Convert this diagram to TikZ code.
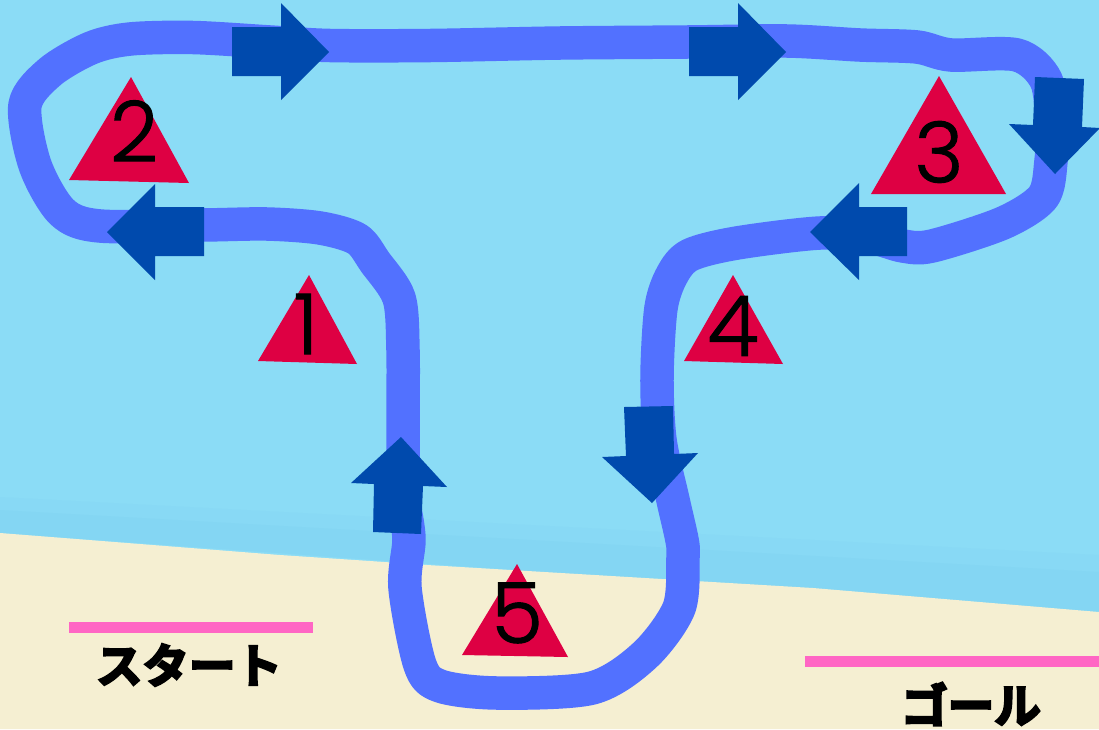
\documentclass[tikz,border=0pt]{standalone}
\usepackage{fontspec}
\newfontfamily\dg[UprightFont=* Light,FakeBold=1.2]{Poppins}
\newfontfamily\cjk[FakeBold=5]{Noto Sans CJK JP Bold}
\definecolor{water}{HTML}{8BDCF6}
\definecolor{waterb}{HTML}{88D9F5}
\definecolor{waterc}{HTML}{84D6F3}
\definecolor{sand}{HTML}{F5EFD2}
\definecolor{course}{HTML}{5271FF}
\definecolor{arrowblue}{HTML}{004AAD}
\definecolor{cone}{HTML}{DE0043}
\definecolor{bar}{HTML}{FF66C4}
\tikzset{
  coursepath/.style={draw=course,line width=33.5pt,line join=round},
  arrowshape/.style={fill=arrowblue},
  conetri/.style={fill=cone},
  barline/.style={fill=bar},
  digit/.style={font=\dg\fontsize{84}{84}\selectfont,text=black,inner sep=0pt},
  jplabel/.style={font=\cjk\fontsize{46.5}{46.5}\selectfont,text=black,inner sep=0pt}
}
\begin{document}
\begin{tikzpicture}[x=1pt,y=-1pt]
\useasboundingbox (0,0) rectangle (1099,729);
\fill[water] (0,0) rectangle (1099,729);
\fill[waterb] (0,497) -- (1099,555) -- (1099,612) -- (0,533) -- cycle;
\fill[waterc] (0,510) -- (1099,572) -- (1099,612) -- (0,533) -- cycle;
\fill[sand] (0,533) -- (280,555) -- (370,561) -- (427,565) -- (813,588) -- (1099,612) -- (1099,729) -- (0,729) -- cycle;
% course
\draw[coursepath] plot[smooth,tension=0.5] coordinates {
 (403,480) (403,417) (403,350) (399,298) (375,262) (357,239) (320,228) (267,224) (203,225) (100,226)
 (62,212) (35,165) (25,105) (50,72) (91,48) (130,39) (193,37.5) (270,42) (330,45.5) (430,45.5) (560,43) (687,42) (787,41)
 (860,45) (917,47) (951,55) (1017,55) (1046,80) (1052,125) (1051,161) (1043,197) (1003,223) (932,246) (903,246)
 (870,237) (820,233) (737,243) (690,255) (672,275) (661,308) (657,377) (660,440) (673,500) (682,540) (683,557) (679,608)
 (645,655) (592,688) (497,693) (440,686) (420,665) (405,588) (409,540) (405,510)};
% cones
\fill[conetri] (309,275) -- (258,361) -- (357,364) -- cycle;
\fill[conetri] (131,77) -- (69,180) -- (189,183) -- cycle;
\fill[conetri] (939,76) -- (871,194) -- (1006,194) -- cycle;
\fill[conetri] (733,275) -- (684,361) -- (783,364) -- cycle;
\fill[conetri] (517,564) -- (462,655) -- (568,657) -- cycle;
\node[digit] (n1) at (306,324) {1};
\node[digit] (n2) at (134,131) {2};
\node[digit] (n3) at (939,152) {3};
\node[digit] (n4) at (733,326) {4};
\node[digit] (n5) at (517,613) {5};
% arrows
\fill[arrowshape] (232,27) -- (281,27) -- (281,3) -- (329,52) -- (281,100) -- (281,76) -- (232,76) -- cycle;
\fill[arrowshape] (689,27) -- (738,27) -- (738,3) -- (786,52) -- (738,100) -- (738,76) -- (689,76) -- cycle;
\fill[arrowshape] (1035,77) -- (1084,79) -- (1082,127) -- (1100,128) -- (1055,174) -- (1009,124) -- (1033,125) -- cycle;
\fill[arrowshape] (907,207) -- (859,207) -- (859,183) -- (810,232) -- (859,280) -- (859,256) -- (907,256) -- cycle;
\fill[arrowshape] (204,207) -- (155,207) -- (155,184) -- (107,232) -- (155,280) -- (155,256) -- (204,256) -- cycle;
\fill[arrowshape] (401,437) -- (351,483) -- (374,484) -- (373,532) -- (421,534) -- (423,486) -- (447,487) -- cycle;
\fill[arrowshape] (624,407) -- (673,406) -- (674,454) -- (698,453) -- (652,503) -- (602,457) -- (626,456) -- cycle;
% bars and labels
\fill[barline] (69,622) rectangle (313,633);
\fill[barline] (805,656) rectangle (1099,667);
\node[jplabel] (start) at (189,665) {スタート};
\node[jplabel] (goal) at (971,704) {ゴール};
\end{tikzpicture}
\end{document}
